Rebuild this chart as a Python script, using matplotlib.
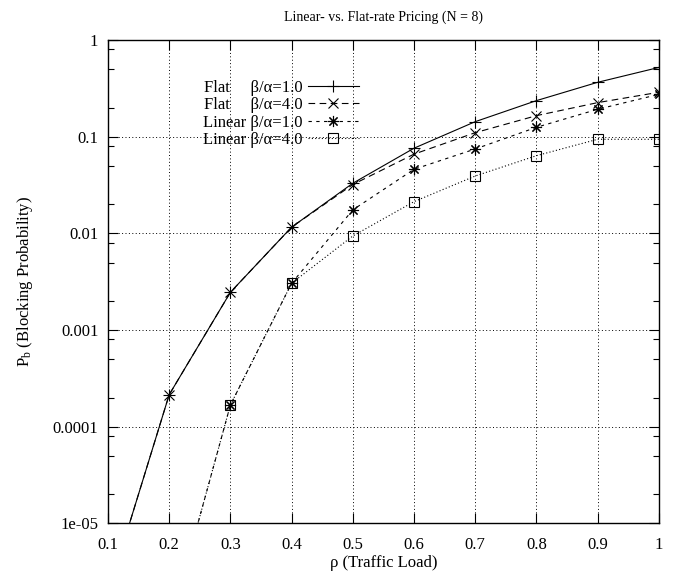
import matplotlib
matplotlib.use("Agg")
import matplotlib.pyplot as plt
from matplotlib.ticker import FixedLocator, FixedFormatter, NullFormatter

# Datos
rho = [0.1, 0.2, 0.3, 0.4, 0.5, 0.6, 0.7, 0.8, 0.9, 1.0]
flat_b1 = [1.9e-6, 2.15e-4, 0.00246, 0.0116, 0.033, 0.076, 0.143, 0.236, 0.365, 0.52]
flat_b4 = [1.9e-6, 2.15e-4, 0.00246, 0.0116, 0.032, 0.066, 0.110, 0.165, 0.225, 0.288]
lin_b1 = [1e-9, 8.3e-7, 1.68e-4, 0.00305, 0.0175, 0.046, 0.0746, 0.125, 0.192, 0.274]
lin_b4 = [1e-9, 8.3e-7, 1.68e-4, 0.00305, 0.0094, 0.0213, 0.0392, 0.0636, 0.094, 0.094]

etiquetas = ["Flat     \u03b2/\u03b1=1.0", "Flat     \u03b2/\u03b1=4.0",
             "Linear \u03b2/\u03b1=1.0", "Linear \u03b2/\u03b1=4.0"]
ytick_vals = [1e-5, 1e-4, 1e-3, 1e-2, 1e-1, 1]
ytick_labels = ["1e-05", "0.0001", "0.001", "0.01", "0.1", "1"]
xticks = [0.1, 0.2, 0.3, 0.4, 0.5, 0.6, 0.7, 0.8, 0.9, 1.0]
xtick_labels = ["0.1", "0.2", "0.3", "0.4", "0.5", "0.6", "0.7", "0.8", "0.9", "1"]

plt.rcParams["font.family"] = ["Liberation Serif", "DejaVu Serif"]
plt.rcParams["font.size"] = 12
plt.rcParams["mathtext.fontset"] = "custom"
plt.rcParams["mathtext.rm"] = "Liberation Serif"
plt.rcParams["mathtext.it"] = "Liberation Serif:italic"

fig = plt.figure(figsize=(6.75, 5.73), dpi=100)
ax = fig.add_axes([0.16, 0.0864, 0.816, 0.8438])

lw = 0.8
ax.plot(rho, flat_b1, color="black", lw=lw, ls="-", marker="+", ms=8, mew=0.8,
        label=etiquetas[0])
ax.plot(rho, flat_b4, color="black", lw=lw, ls=(0, (6, 4)), marker="x", ms=6.5, mew=0.8,
        label=etiquetas[1])
ax.plot(rho, lin_b1, color="black", lw=lw, ls=(0, (3, 4)), marker=(8, 2, 0), ms=8, mew=0.8,
        label=etiquetas[2])
ax.plot(rho, lin_b4, color="black", lw=lw, ls=(0, (1, 2)), marker="s", ms=7, mew=0.8,
        mfc="none", label=etiquetas[3])

ax.set_yscale("log")
ax.set_xlim(0.1, 1.0)
ax.set_ylim(1e-5, 1)

ax.set_xticks(xticks)
ax.set_xticklabels(xtick_labels)
ax.yaxis.set_major_locator(FixedLocator(ytick_vals))
ax.yaxis.set_major_formatter(FixedFormatter(ytick_labels))
minors = [m * 10.0 ** e for e in range(-5, 0) for m in (2, 5, 8)]
ax.yaxis.set_minor_locator(FixedLocator(minors))
ax.yaxis.set_minor_formatter(NullFormatter())

ax.tick_params(axis="both", which="major", direction="in", length=7, width=0.8,
               top=True, right=True, labelsize=12)
ax.tick_params(axis="x", which="major", pad=10)
ax.tick_params(axis="y", which="major", pad=7)
ax.tick_params(axis="y", which="minor", direction="in", length=4, width=0.8,
               left=True, right=True)
ax.tick_params(axis="x", which="minor", bottom=False, top=False)

ax.grid(True, which="major", color="black", ls=(0, (1, 2.5)), lw=0.7)
for s in ax.spines.values():
    s.set_linewidth(1.0)

ax.set_title("Linear- vs. Flat-rate Pricing (N = 8)", fontsize=10, pad=14)
ax.set_xlabel("\u03c1 (Traffic Load)", fontsize=12, labelpad=1)
ax.set_ylabel("P$_\\mathrm{b}$ (Blocking Probability)", fontsize=12, labelpad=13)

ax.legend(loc="upper left", bbox_to_anchor=(0.158, 0.935), frameon=False,
          markerfirst=False, handlelength=3.05, handletextpad=0.3,
          labelspacing=0.09, borderpad=0, fontsize=12)

fig.savefig("out.png", dpi=100)
